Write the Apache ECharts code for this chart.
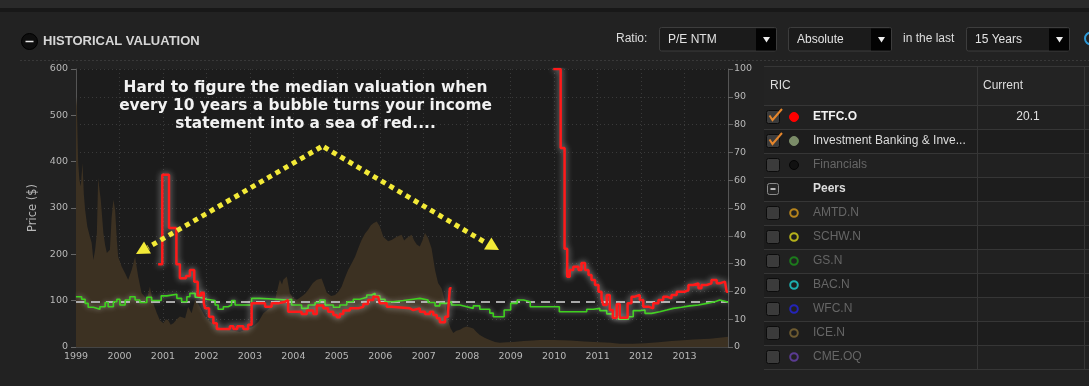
<!DOCTYPE html>
<html><head><meta charset="utf-8">
<script src="https://cdn.jsdelivr.net/npm/echarts@6/dist/echarts.min.js"></script>
<style>html,body{margin:0;padding:0;background:#222;}#c{width:1089px;height:386px;}</style>
</head><body><div id="c"></div><script>
// ---- data (x = decimal year) ----
const priceHistory = [[1999.00,540],[1999.02,520],[1999.05,397],[1999.08,360],[1999.11,347],[1999.15,397],[1999.18,330],[1999.21,296],[1999.26,260],[1999.32,238],[1999.36,225],[1999.40,188],[1999.44,210],[1999.48,246],[1999.51,365],[1999.54,340],[1999.57,318],[1999.63,246],[1999.67,220],[1999.71,203],[1999.78,210],[1999.82,280],[1999.86,318],[1999.90,296],[1999.94,230],[1999.97,195],[2000.05,174],[2000.13,159],[2000.20,145],[2000.28,166],[2000.36,195],[2000.43,152],[2000.51,116],[2000.57,110],[2000.63,102],[2000.70,130],[2000.78,94],[2000.86,73],[2000.93,58],[2001.01,51],[2001.07,60],[2001.12,58],[2001.18,48],[2001.24,51],[2001.32,60],[2001.39,66],[2001.51,62],[2001.58,87],[2001.66,73],[2001.74,102],[2001.80,95],[2001.85,87],[2001.97,66],[2002.08,55],[2002.24,44],[2002.35,40],[2002.47,37],[2002.62,35],[2002.77,33],[2002.92,38],[2003.08,44],[2003.20,55],[2003.31,73],[2003.46,84],[2003.58,102],[2003.65,130],[2003.69,145],[2003.74,135],[2003.77,145],[2003.85,152],[2003.92,116],[2004.00,105],[2004.08,102],[2004.19,109],[2004.27,115],[2004.34,123],[2004.45,138],[2004.54,145],[2004.65,148],[2004.72,130],[2004.77,117],[2004.87,110],[2004.96,112],[2005.04,120],[2005.11,130],[2005.18,148],[2005.26,166],[2005.34,180],[2005.42,195],[2005.50,215],[2005.57,231],[2005.65,245],[2005.72,253],[2005.78,262],[2005.84,267],[2005.92,271],[2005.99,260],[2006.07,238],[2006.18,228],[2006.26,231],[2006.38,238],[2006.49,242],[2006.55,230],[2006.61,235],[2006.72,242],[2006.78,230],[2006.84,221],[2006.91,217],[2006.97,230],[2007.03,246],[2007.10,235],[2007.18,213],[2007.26,166],[2007.33,138],[2007.41,127],[2007.49,98],[2007.56,58],[2007.62,40],[2007.68,30],[2007.75,35],[2007.83,37],[2007.92,42],[2007.99,44],[2008.07,42],[2008.14,40],[2008.22,32],[2008.29,26],[2008.40,20],[2008.52,15],[2008.64,11],[2008.75,9],[2008.90,10],[2009.06,11],[2009.30,13],[2009.50,14],[2009.67,15],[2010.00,15],[2010.36,14],[2010.70,12],[2011.05,10],[2011.30,9],[2011.51,7],[2011.80,7],[2012.09,8],[2012.40,10],[2012.70,13],[2012.89,14],[2013.20,16],[2013.58,18],[2013.80,20],[2014.00,22]];

const etfcPE = [[2000.89,29.8],[2000.985,62],[2001.14,42.8],[2001.31,29.8],[2001.39,24.7],[2001.53,25.5],[2001.62,27.7],[2001.72,23.5],[2001.80,18.5],[2001.88,19.5],[2001.94,15.7],[2001.97,13.9],[2002.06,10.9],[2002.16,8.5],[2002.24,6.5],[2002.54,7.5],[2002.62,6.5],[2002.71,7.5],[2002.85,6.5],[2002.96,8.0],[2003.04,15.7],[2003.35,14.5],[2003.50,15.7],[2003.65,16.3],[2003.81,16.9],[2003.88,12.7],[2004.19,11.9],[2004.31,13.1],[2004.46,11.9],[2004.54,14.9],[2004.69,13.9],[2004.80,12.7],[2004.92,11.5],[2005.00,10.7],[2005.07,11.9],[2005.15,13.1],[2005.30,13.9],[2005.49,14.5],[2005.61,15.5],[2005.72,16.9],[2005.84,18.1],[2005.95,17.5],[2005.99,15.7],[2006.15,14.5],[2006.26,13.9],[2006.68,13.3],[2006.76,13.9],[2006.91,12.7],[2007.03,11.9],[2007.14,12.7],[2007.22,11.5],[2007.30,10.3],[2007.37,8.9],[2007.49,10.9],[2007.56,12.7],[2007.60,21.1],[2007.64,21.1],[2007.65,null],
[2009.98,100],[2010.15,71.6],[2010.24,35.3],[2010.30,25.3],[2010.36,27.7],[2010.44,28.9],[2010.56,27.7],[2010.63,30.2],[2010.71,27.7],[2010.79,25.9],[2010.86,24.1],[2010.94,22.3],[2011.02,19.9],[2011.09,17.5],[2011.13,15.1],[2011.21,18.7],[2011.28,13.3],[2011.35,10.5],[2011.44,15.5],[2011.51,10.5],[2011.69,15.7],[2011.78,18.1],[2011.86,18.7],[2011.97,16.9],[2012.05,14.5],[2012.17,13.9],[2012.28,15.7],[2012.40,16.9],[2012.51,18.1],[2012.59,17.5],[2012.70,18.7],[2012.82,19.9],[2013.01,20.5],[2013.09,22.3],[2013.20,22.9],[2013.32,21.1],[2013.39,22.3],[2013.51,22.9],[2013.62,24.1],[2013.74,22.9],[2013.81,23.5],[2013.93,23.2],[2013.97,19.9],[2014.00,19.9]];

const industryPE = [[1999.00,18.1],[1999.13,17.2],[1999.21,15.7],[1999.28,14.3],[1999.40,13.6],[1999.55,14.5],[1999.67,16.0],[1999.74,14.5],[1999.86,16.3],[1999.94,17.2],[2000.01,15.1],[2000.13,16.9],[2000.24,18.1],[2000.36,16.9],[2000.47,16.0],[2000.63,17.9],[2000.74,16.7],[2000.96,18.4],[2001.09,19.0],[2001.32,17.5],[2001.43,16.3],[2001.55,18.1],[2001.62,19.3],[2001.74,17.9],[2001.85,17.2],[2002.01,16.7],[2002.20,15.1],[2002.27,13.6],[2002.39,14.5],[2002.50,15.1],[2002.58,16.7],[2002.66,15.1],[2003.04,17.5],[2003.23,17.2],[2003.62,16.9],[2003.85,17.2],[2003.96,15.1],[2004.19,13.9],[2004.34,15.1],[2004.50,16.0],[2004.61,16.9],[2004.73,15.1],[2004.92,14.3],[2005.07,15.1],[2005.23,16.3],[2005.38,17.2],[2005.53,17.9],[2005.69,18.7],[2005.80,19.3],[2005.88,18.4],[2005.99,17.2],[2006.11,16.3],[2006.30,16.7],[2006.53,17.2],[2006.76,17.5],[2006.91,16.9],[2007.10,16.0],[2007.26,14.8],[2007.37,15.7],[2007.53,16.3],[2007.64,15.1],[2007.83,14.5],[2007.99,13.9],[2008.14,14.8],[2008.29,13.6],[2008.52,12.2],[2008.60,10.9],[2008.85,13.3],[2009.00,15.7],[2009.15,16.9],[2009.30,16.3],[2009.45,14.5],[2009.98,14.5],[2010.12,12.7],[2010.75,13.6],[2010.90,13.9],[2011.05,13.1],[2011.21,11.9],[2011.36,10.9],[2011.48,10.0],[2011.71,10.9],[2011.82,13.1],[2011.97,13.3],[2012.09,12.1],[2012.24,12.7],[2012.43,13.3],[2012.59,13.9],[2012.74,14.3],[2012.93,14.8],[2013.12,15.1],[2013.32,15.7],[2013.51,16.3],[2013.70,16.9],[2013.81,16.3],[2013.97,16.0],[2014.00,16.0]];

const medianPE = 16.2;
const xRange = [1999, 2014];
const priceRange = [0, 600];
const peRange = [0, 100];

const annotationLines = ['Hard to figure the median valuation when', 'every 10 years a bubble turns your income', 'statement into a sea of red....'];
const tableRows = ['ETFC.O', 'Investment Banking & Inve...', 'Financials', 'Peers', 'AMTD.N', 'SCHW.N', 'GS.N', 'BAC.N', 'WFC.N', 'ICE.N', 'CME.OQ'];
const tableCurrent = ['20.1', '', '', '', '', '', '', '', '', '', ''];
const tableColors = ['#ff0000', '#7b8c68', '#111111', null, '#b5831c', '#b5b11b', '#1c7a1c', '#1eadad', '#2424b8', '#6d5a30', '#5a3b91'];
const tableChecked = [true, true, false, null, false, false, false, false, false, false, false];
const tableActive = [true, true, false, true, false, false, false, false, false, false, false];

// ---- graphics ----
const G = [];
const FONT = '"Liberation Sans", Arial, sans-serif';
function txt(x, y, s, fill, font, align) {
  G.push({type: 'text', x: x, y: y, silent: true, z: 10,
    style: {text: s, fill: fill, font: font, textAlign: align || 'left', textVerticalAlign: 'middle', align: align || 'left', verticalAlign: 'middle'}});
}
function rect(x, y, w, h, fill, stroke, r) {
  G.push({type: 'rect', silent: true, z: 5, shape: {x: x, y: y, width: w, height: h, r: r || 0},
    style: {fill: fill || 'none', stroke: stroke || 'none', lineWidth: 1}});
}
function hline(x1, x2, y, color, dash) {
  G.push({type: 'line', silent: true, z: 6, shape: {x1: x1, y1: y, x2: x2, y2: y}, style: {stroke: color, lineWidth: 1, lineDash: dash || null}});
}
// top strips
rect(0, 0, 1089, 8, '#2a2a2a');
rect(0, 8, 1089, 4, '#181818');
hline(20, 1089, 60.5, '#383838', [2, 2]);
// header
G.push({type: 'circle', silent: true, z: 6, shape: {cx: 29.5, cy: 41.5, r: 8}, style: {fill: '#0e0e0e', stroke: '#000', lineWidth: 1}});
G.push({type: 'line', silent: true, z: 7, shape: {x1: 25.5, y1: 41.5, x2: 33.5, y2: 41.5}, style: {stroke: '#e8e8e8', lineWidth: 1.5}});
txt(43, 41.5, 'HISTORICAL VALUATION', '#d6d6d6', 'bold 13px ' + FONT);
// controls
function dropdown(x, w, label) {
  rect(x + 0.5, 27.5, w, 23.5, '#1b1b1b', '#3d3d3d', 2);
  rect(x + w - 20, 28.5, 20, 22, '#030303');
  txt(x + 9, 39.5, label, '#e2e2e2', '12px ' + FONT);
  const cx = x + w - 9.5, cy = 39.5;
  G.push({type: 'polygon', silent: true, z: 8, shape: {points: [[cx - 3.5, cy - 2.5], [cx + 3.5, cy - 2.5], [cx, cy + 3]]}, style: {fill: '#eeeeee'}});
}
txt(616, 39, 'Ratio:', '#dddddd', '12px ' + FONT);
dropdown(659, 117, 'P/E NTM');
dropdown(788, 103, 'Absolute');
txt(903, 39, 'in the last', '#dddddd', '12px ' + FONT);
dropdown(966, 103, '15 Years');
G.push({type: 'circle', silent: true, z: 6, shape: {cx: 1091, cy: 38.5, r: 6}, style: {fill: 'none', stroke: '#2f9ad8', lineWidth: 2}});

// table
const tX = 764, tR = 1089, colX = 977.5;
rect(tX, 67, tR - tX, 38, '#232323');
tableRows.forEach((name, i) => {
  const top = 105 + i * 24;
  rect(tX, top, tR - tX, 24, i % 2 === 0 ? '#212121' : '#1d1d1d');
});
hline(tX, tR, 66.5, '#363636');
for (let i = 0; i <= tableRows.length; i++) hline(tX, tR, 105.5 + i * 24, '#363636');
G.push({type: 'line', silent: true, z: 6, shape: {x1: colX, y1: 67, x2: colX, y2: 369}, style: {stroke: '#363636', lineWidth: 1}});
G.push({type: 'line', silent: true, z: 6, shape: {x1: 1084.5, y1: 67, x2: 1084.5, y2: 369}, style: {stroke: '#363636', lineWidth: 1}});
txt(770, 86, 'RIC', '#dddddd', '12px ' + FONT);
txt(983, 86, 'Current', '#dddddd', '12px ' + FONT);
tableRows.forEach((name, i) => {
  const cy = 117 + i * 24;
  if (tableChecked[i] === null) {
    rect(767.5, cy - 5.5, 11, 11, '#262626', '#8a8a8a', 2);
    G.push({type: 'line', silent: true, z: 7, shape: {x1: 770.5, y1: cy, x2: 775.5, y2: cy}, style: {stroke: '#eeeeee', lineWidth: 1.5}});
  } else {
    rect(766.5, cy - 6.5, 13, 13, '#3b3b3b', '#0c0c0c', 2);
    if (tableChecked[i]) {
      G.push({type: 'polyline', silent: true, z: 8, shape: {points: [[769.5, cy - 1.5], [772.5, cy + 3], [782, cy - 8]]}, style: {stroke: '#e5862c', lineWidth: 2, fill: 'none'}});
    }
  }
  const col = tableColors[i];
  if (col) {
    const filled = i < 3;
    G.push({type: 'circle', silent: true, z: 7, shape: {cx: 794, cy: cy, r: filled ? 4.5 : 3.8},
      style: filled ? {fill: col, stroke: i === 2 ? '#050505' : col, lineWidth: 1} : {fill: 'none', stroke: col, lineWidth: 2}});
  }
  const bold = (i === 0 || i === 3);
  txt(813, cy, name, tableActive[i] ? (i === 0 ? '#f2f2f2' : '#dcdcdc') : '#666666', (bold ? 'bold ' : '') + '12px ' + FONT);
  if (tableCurrent[i]) txt(1028, cy, tableCurrent[i], '#e0e0e0', '12px ' + FONT, 'center');
});

// annotation
annotationLines.forEach((s, i) => {
  G.push({type: 'text', x: 305.5, y: 88 + i * 18, silent: true, z: 20,
    style: {text: s, fill: '#f2f2f2', font: 'bold 15.4px "DejaVu Sans", sans-serif', textAlign: 'center', textVerticalAlign: 'middle', align: 'center', verticalAlign: 'middle',
      shadowColor: 'rgba(0,0,0,0.6)', shadowBlur: 2}});
});
const YEL = '#f3ea37';
G.push({type: 'line', silent: true, z: 20, shape: {x1: 321, y1: 147, x2: 148, y2: 247.5}, style: {stroke: YEL, lineWidth: 5, lineDash: [5, 4.5]}});
G.push({type: 'polygon', silent: true, z: 20, shape: {points: [[136, 254], [151, 253.5], [144, 241.5]]}, style: {fill: YEL}});
G.push({type: 'line', silent: true, z: 20, shape: {x1: 324, y1: 147, x2: 487, y2: 243.5}, style: {stroke: YEL, lineWidth: 5, lineDash: [5, 4.5]}});
G.push({type: 'polygon', silent: true, z: 20, shape: {points: [[499, 250], [484, 249.5], [491.4, 237.4]]}, style: {fill: YEL}});

// ---- chart ----
const chart = echarts.init(document.getElementById('c'), null, {renderer: 'canvas'});
const axisLabelFont = {color: '#b8b8b8', fontSize: 9.5, fontFamily: '"DejaVu Sans", sans-serif'};
chart.setOption({
  animation: false,
  backgroundColor: '#222222',
  grid: {left: 76, right: 361, top: 69, bottom: 39, show: true, backgroundColor: '#1c1c1c', borderWidth: 0},
  xAxis: {
    type: 'value', min: xRange[0], max: xRange[1], interval: 1,
    axisLine: {lineStyle: {color: '#444'}},
    axisTick: {show: false},
    axisLabel: Object.assign({margin: 5, formatter: v => (v === xRange[1] ? '' : String(v))}, axisLabelFont),
    splitLine: {show: true, lineStyle: {color: '#3a3a3a', type: [1, 3]}}
  },
  yAxis: [
    {type: 'value', min: priceRange[0], max: priceRange[1], interval: 100, position: 'left',
      name: 'Price ($)', nameLocation: 'middle', nameGap: 36, nameRotate: 90,
      nameTextStyle: {color: '#b8b8b8', fontSize: 11.5, fontFamily: '"DejaVu Sans", sans-serif'},
      axisLine: {show: true, lineStyle: {color: '#555'}},
      axisTick: {show: true, length: 5, lineStyle: {color: '#666'}},
      axisLabel: Object.assign({margin: 8}, axisLabelFont),
      splitLine: {show: false}},
    {type: 'value', min: peRange[0], max: peRange[1], interval: 10, position: 'right',
      axisLine: {show: true, lineStyle: {color: '#555'}},
      axisTick: {show: true, length: 5, lineStyle: {color: '#666'}},
      axisLabel: Object.assign({margin: 6}, axisLabelFont),
      splitLine: {show: true, lineStyle: {color: '#3a3a3a', type: [1, 3]}}}
  ],
  series: [
    {name: 'Price', type: 'line', yAxisIndex: 0, data: priceHistory, symbol: 'none',
      lineStyle: {width: 0}, areaStyle: {color: '#3c3122', opacity: 1}, z: 1},
    {name: 'Median', type: 'line', yAxisIndex: 1, data: [[xRange[0], medianPE], [xRange[1], medianPE]], symbol: 'none',
      lineStyle: {color: '#a9a9a9', width: 2, type: [9, 6]}, z: 2},
    {name: 'Investment Banking & Investment Services', type: 'line', yAxisIndex: 1, data: industryPE, symbol: 'none', step: 'end',
      lineStyle: {color: '#3fd11f', width: 1.6, shadowColor: 'rgba(255,255,255,0.45)', shadowBlur: 5}, z: 3},
    {name: 'ETFC.O', type: 'line', yAxisIndex: 1, data: etfcPE, symbol: 'none', step: 'end', connectNulls: false,
      lineStyle: {color: '#ff1a1a', width: 2.5, shadowColor: 'rgba(255,255,255,0.6)', shadowBlur: 6}, z: 4}
  ],
  graphic: G
});
</script></body></html>
